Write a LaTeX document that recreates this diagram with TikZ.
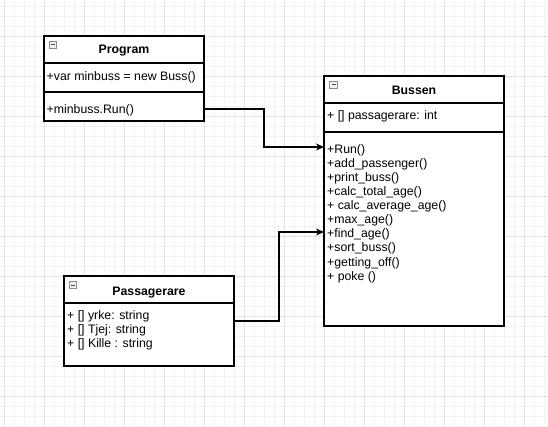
\documentclass[tikz,border=0pt]{standalone}
\usepackage{fontspec}
\setmainfont{Liberation Sans}
\usetikzlibrary{arrows.meta}
\begin{document}
\begin{tikzpicture}[x=1pt,y=-1pt,
  minorgrid/.style={draw=black!5,line width=0.6pt},
  majorgrid/.style={draw=black!11,line width=0.8pt},
  classbox/.style={draw=black,line width=1.1pt,fill=white,inner sep=0pt,outer sep=0pt,anchor=north west},
  sepline/.style={draw=black,line width=1.1pt},
  title/.style={font=\fontsize{12.3}{14}\selectfont\bfseries,anchor=base,inner sep=0pt},
  member/.style={font=\fontsize{12.3}{14}\selectfont,anchor=base west,inner sep=0pt},
  icon/.style={draw=black!45,fill=black!6,line width=0.6pt,minimum size=7.5pt,inner sep=0pt,outer sep=0pt},
  assoc/.style={draw=black,line width=1.1pt,-{Stealth[length=8pt,width=7pt,inset=2.5pt]}}
]
\useasboundingbox (0,0) rectangle (548,427);
\fill[white] (0,0) rectangle (548,427);
% grid
\foreach \x in {4,14,...,544} \draw[minorgrid] (\x,0) -- (\x,427);
\foreach \y in {6,16,...,426} \draw[minorgrid] (0,\y) -- (548,\y);
\foreach \x in {4,44,...,524} \draw[majorgrid] (\x,0) -- (\x,427);
\foreach \y in {36,76,...,396} \draw[majorgrid] (0,\y) -- (548,\y);

% Program
\node[classbox,minimum width=160pt,minimum height=85pt] (prog) at (44,36) {};
\draw[sepline] (44,63) -- (204,63);
\draw[sepline] (44,92) -- (204,92);
\node[icon] (progicon) at (53,45) {};
\draw[black!70,line width=1pt] ([xshift=-2pt]progicon.center) -- ([xshift=2pt]progicon.center);
\node[title] (progtitle) at (124,54) {Program};
\node[member] (progattr) at (46.5,81) {+var minbuss = new Buss()};
\node[member] (progmeth) at (46.5,114) {+minbuss.Run()};

% Bussen
\node[classbox,minimum width=180pt,minimum height=250pt] (bus) at (324,76) {};
\draw[sepline] (324,103) -- (504,103);
\draw[sepline] (324,132) -- (504,132);
\node[icon] (busicon) at (333.5,85) {};
\draw[black!70,line width=1pt] ([xshift=-2pt]busicon.center) -- ([xshift=2pt]busicon.center);
\node[title] (bustitle) at (414,95) {Bussen};
\node[member] (busattr) at (327,119.5) {+ [] passagerare: int};
\node[member] (m1) at (327,154) {+Run()};
\node[member] (m2) at (327,168) {+add\_passenger()};
\node[member] (m3) at (327,182) {+print\_buss()};
\node[member] (m4) at (327,196) {+calc\_total\_age()};
\node[member] (m5) at (327,210) {+ calc\_average\_age()};
\node[member] (m6) at (327,224) {+max\_age()};
\node[member] (m7) at (327,238) {+find\_age()};
\node[member] (m8) at (327,252) {+sort\_buss()};
\node[member] (m9) at (327,266) {+getting\_off()};
\node[member] (m10) at (327,280) {+ poke ()};

% Passagerare
\node[classbox,minimum width=170pt,minimum height=90pt] (pass) at (64,276) {};
\draw[sepline] (64,303) -- (234,303);
\node[icon] (passicon) at (73,285) {};
\draw[black!70,line width=1pt] ([xshift=-2pt]passicon.center) -- ([xshift=2pt]passicon.center);
\node[title] (passtitle) at (149,295) {Passagerare};
\node[member] (p1) at (67,319.5) {+ [] yrke: string};
\node[member] (p2) at (67,333.5) {+ [] Tjej: string};
\node[member] (p3) at (67,347.5) {+ [] Kille : string};

% connectors
\draw[assoc] ([yshift=-30.5pt]prog.east) -- ++(60,0) |- ([yshift=54pt]bus.west);
\draw[assoc] (pass.east) -- ++(45,0) |- ([yshift=-31pt]bus.west);
\end{tikzpicture}
\end{document}
